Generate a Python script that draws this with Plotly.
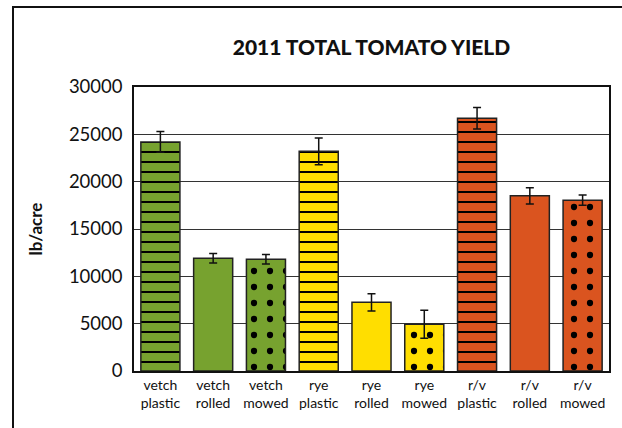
import plotly.graph_objects as go

categories = ["vetch<br>plastic", "vetch<br>rolled", "vetch<br>mowed",
              "rye<br>plastic", "rye<br>rolled", "rye<br>mowed",
              "r/v<br>plastic", "r/v<br>rolled", "r/v<br>mowed"]
yield_values = [24200, 11900, 11800, 23200, 7250, 4950, 26700, 18500, 18050]
error_values = [1100, 500, 500, 1400, 900, 1480, 1130, 870, 550]
group_colors = ["#77a22f", "#ffde00", "#da541f"]
bar_patterns = ["-", "", ".", "-", "", ".", "-", "", "."]
y_ticks = [0, 5000, 10000, 15000, 20000, 25000, 30000]
y_ticktext = ["0", "5000", "10000", "15000", "20000", "25000", "30000"]

fig = go.Figure()
for g, col in enumerate(group_colors):
    idx = slice(3 * g, 3 * g + 3)
    pats = bar_patterns[idx]
    fig.add_trace(go.Bar(
        x=categories[idx], y=yield_values[idx],
        marker=dict(
            color=col,
            line=dict(color="#222222", width=1.5),
            pattern=dict(shape=pats, fgcolor="#000000", bgcolor=col,
                         fgopacity=1,
                         size=[16 if p == "." else 10 for p in pats],
                         solidity=[0.12 if p == "." else 0.2 for p in pats],
                         fillmode="overlay"),
        ),
        error_y=dict(type="data", array=error_values[idx], color="#111111",
                     thickness=1.5, width=4),
        width=0.74,
    ))

fig.update_layout(
    width=622, height=428,
    barmode="overlay",
    margin=dict(l=134, r=13, t=87, b=57),
    paper_bgcolor="white", plot_bgcolor="white",
    showlegend=False,
    title=dict(text="2011 TOTAL TOMATO YIELD", x=0.5, xref="paper",
               y=1 - 48 / 428, yanchor="middle",
               font=dict(family="Lato", size=21, color="#111111", weight=900)),
    font=dict(family="Lato", color="#111111"),
    xaxis=dict(showline=True, linecolor="#111111", linewidth=1.5, mirror=True,
               ticks="", tickfont=dict(size=14), showgrid=False,
               categoryorder="array", categoryarray=categories),
    yaxis=dict(range=[0, 30000], tickvals=y_ticks, ticktext=y_ticktext, showline=True,
               linecolor="#111111", linewidth=1.5, mirror=True, showgrid=True,
               gridcolor="#333333", gridwidth=1,
               ticks="", tickfont=dict(size=18.5), ticklabelstandoff=6,
               title=dict(text="lb/acre", font=dict(size=17, weight=700), standoff=22)),
    shapes=[dict(type="rect", xref="paper", yref="paper",
                 x0=(13 - 134) / 475, x1=1.2, y0=-0.5, y1=(371 - 7) / 284,
                 line=dict(color="#111111", width=2), layer="below")],
)

fig.write_html("out.html", config={"displayModeBar": False})
with open("out.html", "r", encoding="utf-8") as f:
    html = f.read()
html = html.replace("<body>", '<body style="margin:0;overflow:hidden">', 1)
with open("out.html", "w", encoding="utf-8") as f:
    f.write(html)
